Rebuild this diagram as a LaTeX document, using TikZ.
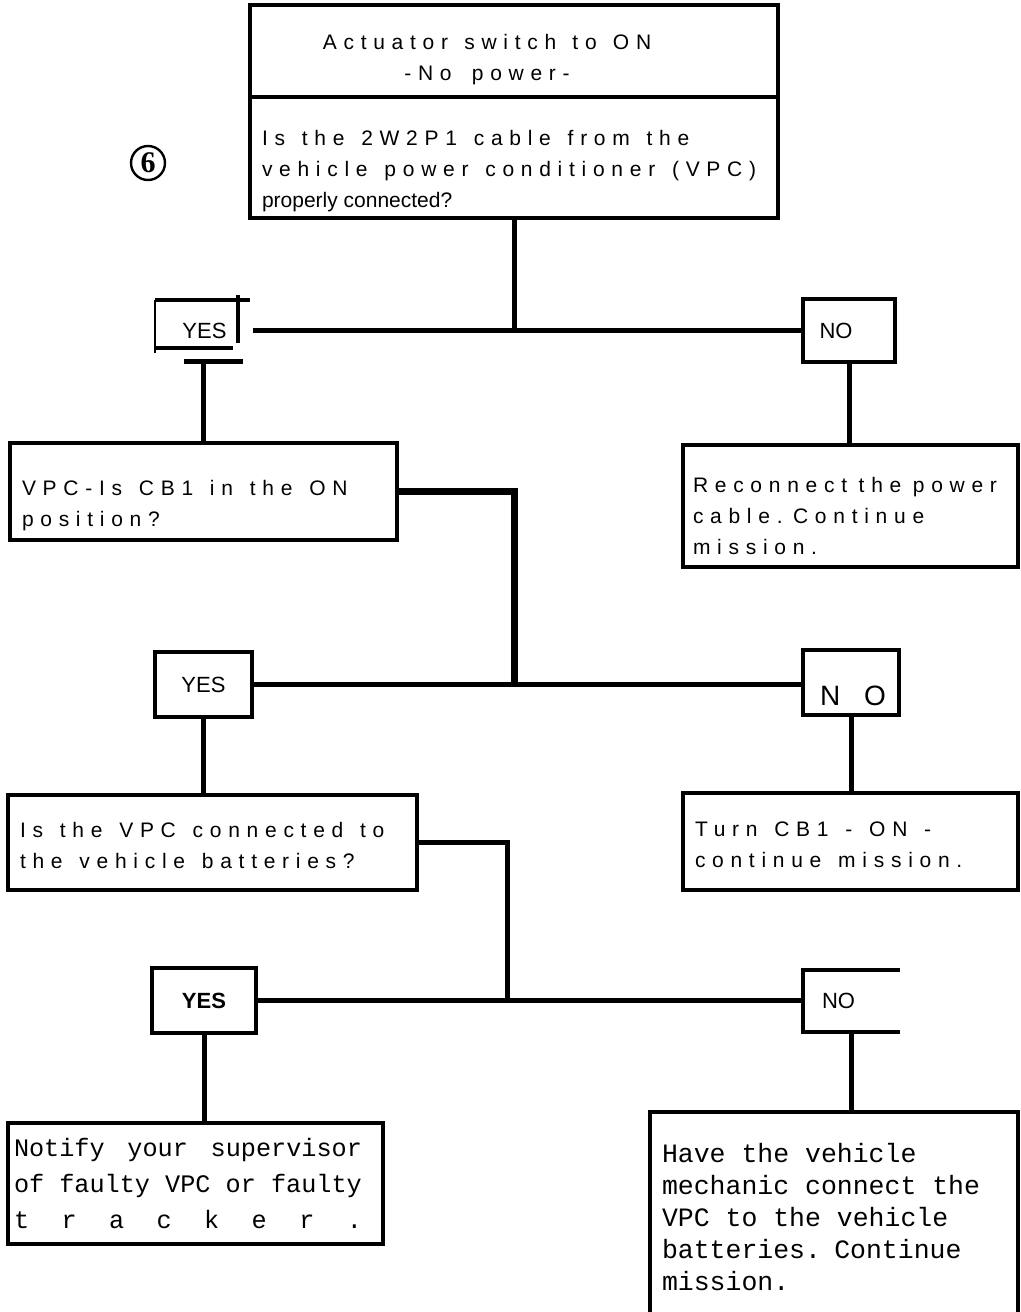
\documentclass[tikz,border=0pt]{standalone}
\usepackage{fontspec}
\setmainfont{Liberation Sans}
\setmonofont{Liberation Mono}
\newfontfamily\spacedfont[LetterSpace=32]{Liberation Sans}
\newfontfamily\numfont{Liberation Serif}
\usetikzlibrary{positioning}
\newcommand{\textdrop}[1]{\rule{0pt}{#1}}
\newcommand{\plainwords}[1]{{\normalfont\spaceskip=0pt\relax #1}}

\begin{document}
\begin{tikzpicture}[
        x=0.5pt, y=-0.5pt,
        box/.style={
            rectangle,
            draw,
            line width=2pt,
            outer sep=0pt,
            inner xsep=6pt,
            inner ysep=0pt,
            anchor=north west,
            align=left,
            font=\spacedfont\fontsize{10.5}{15.5}\selectfont,
            execute at begin node={\spaceskip=0.8em plus 0.1em\relax}
        },
        note/.style={
            box,
            inner xsep=4pt,
            font=\ttfamily\fontsize{13.25}{15.9}\selectfont,
            execute at begin node={\spaceskip=0.6em\relax}
        },
        answer/.style={
            rectangle,
            draw,
            line width=2pt,
            outer sep=0pt,
            inner sep=0pt,
            anchor=north west,
            font=\fontsize{11}{13}\selectfont
        },
        link/.style={
            line width=2.5pt
        }
    ]
    \useasboundingbox (0,0) rectangle (1021,1312);
    \clip (0,0) rectangle (1021,1312);

    % Step number
    \node[circle, draw, line width=1.2pt, minimum size=17pt, inner sep=0pt,
        font=\numfont\bfseries\fontsize{15}{15}\selectfont] (six) at (148,163) {6};

    % Opening question
    \node[box, minimum width=264pt, minimum height=46pt, text width=252pt, align=center,
        execute at begin node={\spaceskip=0.5em plus 0.1em\relax}] (title) at (250,5) {
        \hspace*{-27pt}\textdrop{15.7pt}Actuator switch to ON\\
        \hspace*{-27pt}-No power-
    };
    \node[box, below=0pt of title, minimum width=264pt, minimum height=60.5pt, text width=252pt] (question) {
        \textdrop{20.7pt}Is the 2W2P1 cable from the\\
        vehicle power conditioner (VPC)\\
        \plainwords{properly connected?}
    };

    % First answers
    \node[answer, draw=none, minimum width=41.5pt, minimum height=24pt] (yesA) at (155,300) {\hspace*{8pt}\textdrop{14.9pt}YES};
    \draw[line width=2pt] (yesA.north west) -- ([xshift=6pt]yesA.north east);
    \draw[line width=2pt] ([yshift=2.5pt]yesA.north east) -- ([yshift=2.5pt]yesA.south east);
    \draw[line width=2pt] (yesA.south west) -- ([xshift=-2.5pt]yesA.south east);
    \draw[line width=0.8pt] (yesA.north west) -- ([yshift=-2.5pt]yesA.south west);
    \node[answer, minimum width=46pt, minimum height=31.5pt] (noA) at (803,299) {NO\hspace*{13pt}};

    \node[box, minimum width=193.5pt, minimum height=48.5pt, text width=181.5pt] (cbcheck) at (10,443) {
        \textdrop{21.7pt}VPC-Is CB1 in the ON\\
        position?
    };
    \node[box, inner xsep=5pt, minimum width=167.5pt, minimum height=61pt, text width=157.5pt,
        execute at begin node={\spaceskip=0.55em plus 0.1em\relax}] (reconnect) at (683,445) {
        \textdrop{17.7pt}Reconnect the power\\
        cable. Continue\\
        mission.
    };

    % Second answers
    \node[answer, minimum width=48.5pt, minimum height=32.5pt] (yesB) at (155,652) {YES};
    \node[answer, minimum width=48pt, minimum height=32.5pt,
        font=\spacedfont\fontsize{14}{14}\selectfont] (noB) at (803,650) {\hspace*{2pt}\textdrop{23pt}N\hspace{0.85em}O};

    \node[box, minimum width=204.5pt, minimum height=47.5pt, text width=192.5pt] (battcheck) at (8,795) {
        \textdrop{10.7pt}Is the VPC connected to\\
        the vehicle batteries?
    };
    \node[box, minimum width=167.5pt, minimum height=48.5pt, text width=155.5pt] (turnon) at (683,793) {
        \textdrop{10.7pt}Turn CB1 - ON -\\
        continue mission.
    };

    % Third answers
    \node[answer, minimum width=52pt, minimum height=32.5pt,
        font=\bfseries\fontsize{11}{13}\selectfont] (yesC) at (152,968) {YES};
    \node[answer, draw=none, minimum width=48.5pt, minimum height=31pt] (noC) at (803,970) {NO\hspace*{13pt}};
    \draw[line width=2pt] (noC.north east) -- (noC.north west) -- (noC.south west) -- (noC.south east);

    \node[note, inner xsep=3pt, minimum width=187.5pt, minimum height=60.5pt, text width=181.5pt,
        font=\ttfamily\fontsize{12.6}{18}\selectfont,
        execute at begin node={\spaceskip=0.6em plus 1em\relax}] (notify) at (8,1123) {
        \makebox[174pt][s]{Notify your supervisor}\\
        of faulty VPC or faulty\\
        \makebox[174pt]{t\hfill r\hfill a\hfill c\hfill k\hfill e\hfill r\hfill .}
    };
    \node[note, inner xsep=6pt, minimum width=184pt, minimum height=105pt, text width=172pt] (mechanic) at (650,1112) {
        Have the vehicle\\
        mechanic connect the\\
        VPC to the vehicle\\
        batteries. Continue\\
        mission.
    };

    % Links
    \draw[link] (question.south) -- (question.south |- noA.west);
    \draw[link] ([xshift=7.5pt]yesA.east |- noA.west) -- (noA.west);
    \draw[link] (noA.south) -- (noA.south |- reconnect.north);
    \draw[link] (cbcheck.north) -- ([yshift=-6.5pt]cbcheck.north |- yesA.south) coordinate (teeA);
    \draw[link] ([xshift=-10pt]teeA) -- ([xshift=19.5pt]teeA);

    \draw[link, line width=3.5pt] (cbcheck.east) -| (question.south |- noB.west);
    \draw[link] (yesB.east) -- (yesB.east -| noB.west);
    \draw[link] (yesB.south) -- (yesB.south |- battcheck.north);
    \draw[link] (noB.south) -- (noB.south |- turnon.north);

    \draw[link] (battcheck.east) -- ++(90,0) coordinate (bendC) -- (bendC |- noC.west);
    \draw[link] (yesC.east) -- (yesC.east -| noC.west);
    \draw[link] (yesC.south) -- (yesC.south |- notify.north);
    \draw[link] (noC.south) -- (noC.south |- mechanic.north);
\end{tikzpicture}
\end{document}
